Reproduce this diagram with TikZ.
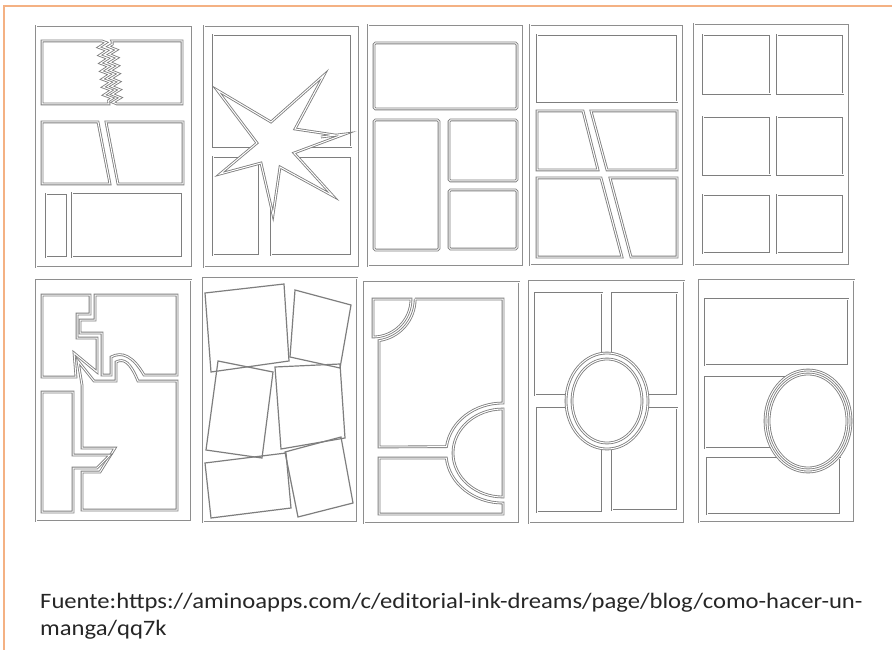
\documentclass[tikz,border=0pt]{standalone}
\usepackage{tikz}
\usepackage{xcolor}
\usepackage{fontspec}
\setmainfont{Carlito}[FakeStretch=1.12]
\definecolor{frameOrange}{HTML}{F4B183}
\definecolor{panelGray}{HTML}{7E7E7E}
\definecolor{sheetGray}{HTML}{8E8E8E}
\definecolor{captionInk}{HTML}{262626}
\usetikzlibrary{decorations.pathmorphing}
\tikzset{
  sheet/.style={draw=sheetGray, line width=0.7pt, double=white, double distance=1pt},
  panel/.style={draw=panelGray, line width=0.85pt, double=white, double distance=1pt, fill=white},
  tilted/.style={draw=panelGray, line width=1.2pt},
  zig/.style={decoration={zigzag, segment length=8pt, amplitude=4pt}},
}

\begin{document}
\begin{tikzpicture}[x=1pt, y=-1pt]
  \useasboundingbox (0,0) rectangle (892,650);
  \fill[white] (0,0) rectangle (892,650);
  \draw[frameOrange, line width=1.5pt] (4,650) -- (4,6) -- (892,6);

  % page 1: zigzag split
  \draw[sheet] (36,26) rectangle (192,267);
  \draw[panel] (42,41) -- (102,41) decorate[zig] {-- (109,104)} -- (42,104) -- cycle;
  \draw[panel] (112,41) -- (182,41) -- (182,104) -- (117,104) decorate[zig] {-- (112,41)} -- cycle;
  \draw[panel] (42,122) -- (98,122) -- (110,184) -- (42,184) -- cycle;
  \draw[panel] (106,122) -- (183,122) -- (183,184) -- (118,184) -- cycle;
  \draw[panel] (46,194) rectangle (67,257);
  \draw[panel] (72,193) rectangle (182,257);

  % page 2: burst
  \draw[sheet] (204,26) rectangle (359,267);
  \draw[panel] (213,35) rectangle (351,147);
  \draw[panel] (213,157) rectangle (259,255);
  \draw[panel] (271,157) rectangle (351,255);
  \draw[panel] (217,90) -- (271,122) -- (324,75) -- (295,129) -- (335,135) -- (321,137)
    -- (345,134) -- (294,153) -- (333,196) -- (280,167) -- (273,215) -- (261,163)
    -- (220,174) -- (257,143) -- cycle;

  % page 3
  \draw[sheet] (368,25) rectangle (523,266);
  \draw[panel, rounded corners=1.5pt] (374,43) rectangle (517,109);
  \draw[panel, rounded corners=1.5pt] (374,120) rectangle (439,250);
  \draw[panel, rounded corners=1.5pt] (449,120) rectangle (517,181);
  \draw[panel, rounded corners=1.5pt] (449,190) rectangle (517,249);

  % page 4: slanted gutters
  \draw[sheet] (530,25) rectangle (683,265);
  \draw[panel] (537,35) rectangle (677,102);
  \draw[panel] (537,111) -- (583,111) -- (598,170) -- (537,170) -- cycle;
  \draw[panel] (591,111) -- (677,111) -- (677,170) -- (607,170) -- cycle;
  \draw[panel] (537,178) -- (601,178) -- (622,257) -- (537,257) -- cycle;
  \draw[panel] (610,178) -- (677,178) -- (677,257) -- (631,257) -- cycle;

  % page 5: grid
  \draw[sheet] (694,24) rectangle (849,265);
  \foreach \ya/\yb in {35/94, 117/175, 195/253} {
    \draw[panel] (703,\ya) rectangle (770,\yb);
    \draw[panel] (777,\ya) rectangle (843,\yb);
  }

  % page 6: interlocking panels
  \draw[sheet] (36,280) rectangle (191,521);
  \draw[panel] (42,295) -- (90,295) -- (90,314) -- (77,314) -- (77,338) -- (97,338)
    -- (97,372) -- (74,353) -- (76,377) -- (42,377) -- cycle;
  \draw[panel] (95,295) -- (177,295) -- (177,375) -- (144,375)
    .. controls (133,356) and (122,351) .. (111,357) -- (111,375) -- (102,375)
    -- (102,333) -- (80,333) -- (80,320) -- (95,320) -- cycle;
  \draw[panel] (82,510) -- (82,472) -- (100,472) -- (115,448) -- (82,448) -- (82,385)
    -- (78,361) -- (94,381) -- (116,381) -- (116,362)
    .. controls (124,358) and (130,362) .. (138,381) -- (177,381) -- (177,510) -- cycle;
  \draw[panel] (42,392) -- (73,392) -- (73,455) -- (110,455) -- (97,468) -- (73,468)
    -- (73,512) -- (42,512) -- cycle;

  % page 7: tilted panels
  \draw[sheet] (203,278) rectangle (357,522);
  \draw[tilted] (205,293) -- (284,284) -- (289,361) -- (211,372) -- cycle;
  \draw[tilted] (295,290) -- (351,305) -- (340,368) -- (290,357) -- cycle;
  \draw[tilted] (218,361) -- (273,372) -- (262,458) -- (206,450) -- cycle;
  \draw[tilted] (275,367) -- (340,364) -- (345,438) -- (281,449) -- cycle;
  \draw[tilted] (205,463) -- (286,453) -- (291,508) -- (211,518) -- cycle;
  \draw[tilted] (285,452) -- (341,437) -- (353,503) -- (298,517) -- cycle;

  % page 8: quarter and half circles
  \draw[sheet] (364,282) rectangle (519,523);
  \draw[panel] (373,299) -- (411,299) arc[start angle=0, end angle=90, radius=38] -- cycle;
  \draw[panel] (415,299) -- (503,299) -- (503,403)
    arc[start angle=270, end angle=187.3, x radius=57, y radius=50]
    -- (379,447) -- (379,340.6) arc[start angle=82, end angle=0, radius=42] -- cycle;
  \draw[panel] (503,409) arc[start angle=270, end angle=90, x radius=50, y radius=44] -- cycle;
  \draw[panel] (379,458) -- (446.3,458)
    arc[start angle=174.3, end angle=90, x radius=57, y radius=50]
    -- (503,514) -- (379,514) -- cycle;

  % page 9: central oval
  \draw[sheet] (529,281) rectangle (684,523);
  \draw[panel] (535,293) rectangle (602,395);
  \draw[panel] (612,293) rectangle (677,395);
  \draw[panel] (537,408) rectangle (602,512);
  \draw[panel] (612,408) rectangle (677,510);
  \draw[panel] (607,401) ellipse[x radius=41, y radius=48];
  \draw[panel] (607,401) ellipse[x radius=35, y radius=42];

  % page 10: side oval
  \draw[sheet] (699,280) rectangle (854,522);
  \draw[panel] (705,299) rectangle (848,365);
  \draw[panel] (705,377) rectangle (787,448);
  \draw[panel] (707,458) rectangle (840,514);
  \draw[panel] (808,421) ellipse[x radius=43, y radius=51];
  \draw[panel] (808,421) ellipse[x radius=39, y radius=47];

  \node[anchor=north west, inner sep=0pt, align=left, text=captionInk,
    font=\fontsize{22}{27}\selectfont] (source) at (40,593)
    {Fuente:https://aminoapps.com/c/editorial-ink-dreams/page/blog/como-hacer-un-\\manga/qq7k};
\end{tikzpicture}
\end{document}
